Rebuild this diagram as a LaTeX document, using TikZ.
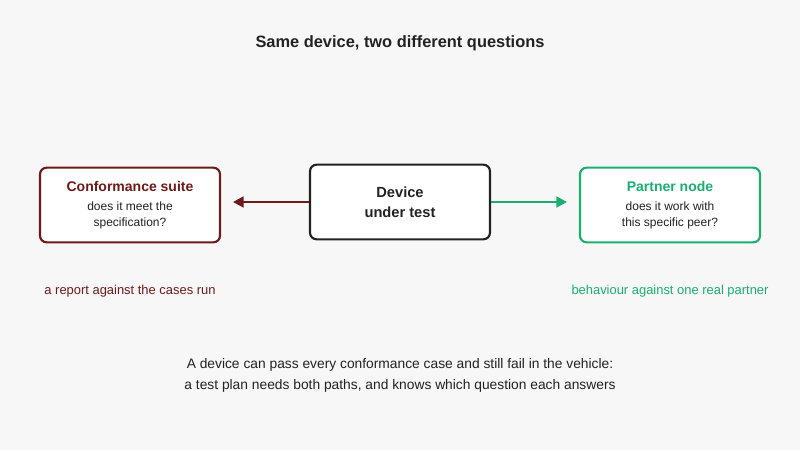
\documentclass[tikz,border=0pt]{standalone}
\usepackage{fontspec}
\setmainfont{Liberation Sans}
\usetikzlibrary{positioning,arrows.meta}
\definecolor{bgc}{HTML}{F7F7F7}
\definecolor{redc}{HTML}{6E1A1A}
\definecolor{grnc}{HTML}{1AAE6F}
\definecolor{inkc}{HTML}{222222}
\begin{document}
\begin{tikzpicture}[x=0.75pt,y=0.75pt,
    box/.style={draw, line width=1.6pt, rounded corners=5pt, fill=white,
      minimum width=135pt, minimum height=56pt, align=center, text=inkc},
    note/.style={font=\fontsize{9.7}{11}\selectfont},
    arr/.style={-{Triangle[length=8pt,width=8pt]}, line width=1.9pt}]
  \fill[bgc] (0,0) rectangle (800,450);
  \node[font=\bfseries\fontsize{12.3}{14}\selectfont, text=inkc] (title) at (400,407) {Same device, two different questions};
  % the three boxes
  \node[box, draw=inkc, font=\bfseries\fontsize{11}{15}\selectfont] (dut) at (400,248) {Device\\under test};
  \node[box, draw=redc, font=\fontsize{9}{12}\selectfont] (conf) at (130,245)
    {\textcolor{redc}{\bfseries\fontsize{10.5}{13}\selectfont Conformance suite}\\[2pt]
     does it meet the\\specification?};
  \node[box, draw=grnc, font=\fontsize{9}{12}\selectfont] (peer) at (670,245)
    {\textcolor{grnc}{\bfseries\fontsize{10.5}{13}\selectfont Partner node}\\[2pt]
     does it work with\\this specific peer?};
  % arrows
  \draw[arr, redc] (dut.west) -- ++(-76,0) coordinate (cend);
  \draw[arr, grnc] (dut.east) -- ++(76,0) coordinate (pend);
  % labels under the boxes
  \node[note, text=redc] (clab) at (130,159) {a report against the cases run};
  \node[note, text=grnc] (plab) at (670,159) {behaviour against one real partner};
  \node[align=center, text=inkc, font=\fontsize{10.35}{15.8}\selectfont] (moral) at (400,75)
    {A device can pass every conformance case and still fail in the vehicle:\\
     a test plan needs both paths, and knows which question each answers};
\end{tikzpicture}
\end{document}
